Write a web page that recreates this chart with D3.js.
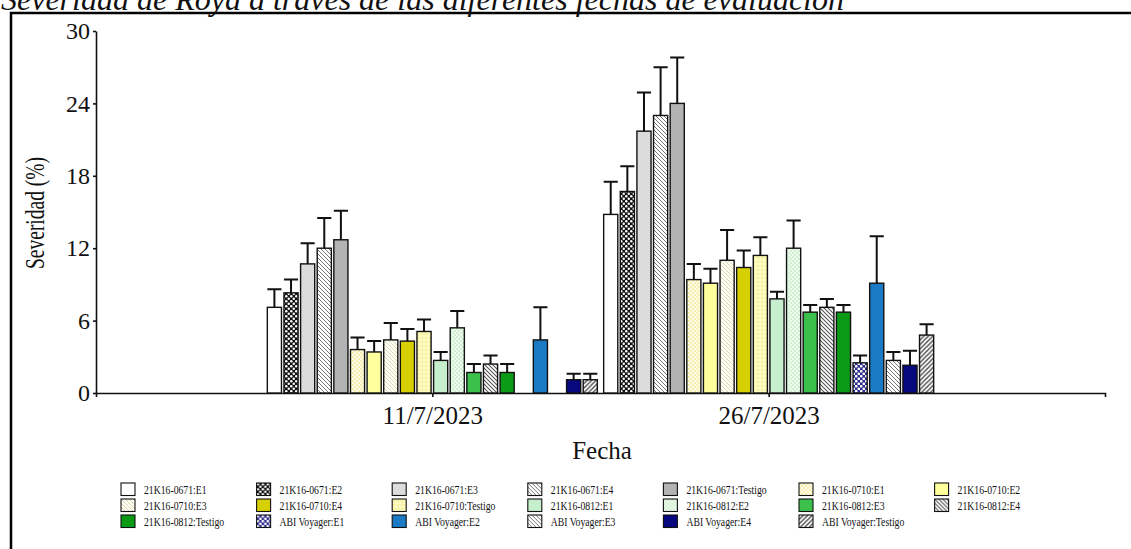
<!DOCTYPE html>
<html>
<head>
<meta charset="utf-8">
<script src="https://cdn.jsdelivr.net/npm/d3@7"></script>
<style>
  body { margin: 0; background: #fff; }
  svg { display: block; }
  text { font-family: "Liberation Serif", "Times New Roman", serif; fill: #111; }
</style>
</head>
<body>
<svg id="chart" width="1131" height="549"></svg>
<script>
// Evaluation dates (x categories)
const dates = ["11/7/2023", "26/7/2023"];

// Genotype : treatment combinations, in plotting order
const treatments = [
  "21K16-0671:E1", "21K16-0671:E2", "21K16-0671:E3", "21K16-0671:E4", "21K16-0671:Testigo",
  "21K16-0710:E1", "21K16-0710:E2", "21K16-0710:E3", "21K16-0710:E4", "21K16-0710:Testigo",
  "21K16-0812:E1", "21K16-0812:E2", "21K16-0812:E3", "21K16-0812:E4", "21K16-0812:Testigo",
  "ABI Voyager:E1", "ABI Voyager:E2", "ABI Voyager:E3", "ABI Voyager:E4", "ABI Voyager:Testigo"
];

// Mean severity (%) per treatment; null = no bar
const sev_11jul = [7.1, 8.3, 10.7, 12.0, 12.7, 3.6, 3.4, 4.4, 4.3, 5.1, 2.7, 5.4, 1.7, 2.4, 1.7, null, 4.4, null, 1.1, 1.1];
const sev_26jul = [14.8, 16.7, 21.7, 23.0, 24.0, 9.4, 9.1, 11.0, 10.4, 11.4, 7.8, 12.0, 6.7, 7.1, 6.7, 2.5, 9.1, 2.7, 2.3, 4.8];

// Standard error (upper whisker length)
const err_11jul = [1.5, 1.1, 1.7, 2.5, 2.4, 1.0, 0.9, 1.4, 1.0, 1.0, 0.7, 1.4, 0.7, 0.7, 0.7, null, 2.7, null, 0.5, 0.5];
const err_26jul = [2.7, 2.1, 3.2, 4.0, 3.8, 1.3, 1.2, 2.5, 1.4, 1.5, 0.6, 2.3, 0.6, 0.7, 0.6, 0.6, 3.9, 0.7, 1.2, 0.9];

const yTicks = [0, 6, 12, 18, 24, 30];

const titleText = "Severidad de Roya a través de las diferentes fechas de evaluación";

const rows = [];
dates.forEach((d, di) => {
  const sev = di === 0 ? sev_11jul : sev_26jul;
  const err = di === 0 ? err_11jul : err_26jul;
  treatments.forEach((t, ti) => {
    if (sev[ti] != null) rows.push({ date: d, treat: t, idx: ti, value: sev[ti], err: err[ti] });
  });
});

const svg = d3.select("#chart");
const defs = svg.append("defs");

// ---- fill patterns ----
function hatch(id, bg, color, dir, size, sw) {
  const p = defs.append("pattern").attr("id", id).attr("patternUnits", "userSpaceOnUse")
    .attr("width", size).attr("height", size);
  p.append("rect").attr("width", size).attr("height", size).attr("fill", bg);
  const s = size;
  if (dir === "\\") {
    p.append("path").attr("d", `M0,0L${s},${s}M${-s},0L${s},${2*s}M0,${-s}L${2*s},${s}`)
      .attr("stroke", color).attr("stroke-width", sw);
  } else {
    p.append("path").attr("d", `M0,${s}L${s},0M${-s},${s}L${s},${-s}M0,${2*s}L${2*s},0`)
      .attr("stroke", color).attr("stroke-width", sw);
  }
}
function holes(id, bg, hole, size, r) {
  const p = defs.append("pattern").attr("id", id).attr("patternUnits", "userSpaceOnUse")
    .attr("width", size).attr("height", size);
  p.append("rect").attr("width", size).attr("height", size).attr("fill", bg);
  p.append("circle").attr("cx", size / 4).attr("cy", size / 4).attr("r", r).attr("fill", hole);
  p.append("circle").attr("cx", 3 * size / 4).attr("cy", 3 * size / 4).attr("r", r).attr("fill", hole);
}
function dots(id, bg, color, size, r) {
  const p = defs.append("pattern").attr("id", id).attr("patternUnits", "userSpaceOnUse")
    .attr("width", size).attr("height", size);
  p.append("rect").attr("width", size).attr("height", size).attr("fill", bg);
  p.append("circle").attr("cx", size / 4).attr("cy", size / 4).attr("r", r).attr("fill", color);
  p.append("circle").attr("cx", 3 * size / 4).attr("cy", 3 * size / 4).attr("r", r).attr("fill", color);
}
function grid(id, bg, color, size) {
  const p = defs.append("pattern").attr("id", id).attr("patternUnits", "userSpaceOnUse")
    .attr("width", size).attr("height", size);
  p.append("rect").attr("width", size).attr("height", size).attr("fill", bg);
  p.append("path").attr("d", `M${size/2},0V${size}M0,${size/2}H${size}`)
    .attr("stroke", color).attr("stroke-width", 0.8);
}

holes("p-check-black", "#111", "#fff", 5, 1.25);
hatch("p-diag-gray", "#fff", "#777", "\\", 4, 1);
dots("p-dot-yellow", "#fffbe6", "#eee070", 4, 0.8);
hatch("p-diag-pale", "#fffff4", "#d6d6b8", "\\", 4, 1);
grid("p-grid-yellow", "#ffffcc", "#f4ec8c", 4);
dots("p-dot-green", "#effcef", "#a8dcaa", 4, 0.8);
hatch("p-diag-dark", "#fff", "#555", "\\", 4, 1.1);
holes("p-check-navy", "#2c2c8c", "#fff", 5, 1.35);
hatch("p-diag-abi", "#fff", "#777", "\\", 4, 1);
hatch("p-slash-abi", "#fff", "#444", "/", 4.5, 1.3);

const fills = [
  "#ffffff", "url(#p-check-black)", "#dcdcdc", "url(#p-diag-gray)", "#b3b3b3",
  "url(#p-dot-yellow)", "#ffff9c", "url(#p-diag-pale)", "#d6d000", "url(#p-grid-yellow)",
  "#c6f0cd", "url(#p-dot-green)", "#3cc04c", "url(#p-diag-dark)", "#0a9a16",
  "url(#p-check-navy)", "#1a7bc4", "url(#p-diag-abi)", "#08087e", "url(#p-slash-abi)"
];

// ---- frame and title ----
svg.append("rect").attr("x", 11).attr("y", 13).attr("width", 1200).attr("height", 600)
  .attr("fill", "none").attr("stroke", "#000").attr("stroke-width", 2.5);

svg.append("text").attr("x", 1).attr("y", 10)
  .style("font-size", "32px").style("font-style", "italic")
  .text(titleText);

// ---- scales ----
const y = d3.scaleLinear().domain([0, 30]).range([393, 31]);
const x0 = d3.scalePoint().domain(dates).range([96, 1105]).padding(1);
const x1 = d3.scaleBand().domain(treatments).range([-165, 165]).paddingInner(0.15);

// ---- axes ----
const yAxis = svg.append("g").attr("transform", "translate(96,0)")
  .call(d3.axisLeft(y).tickValues(yTicks).tickSize(3).tickPadding(3).tickSizeOuter(0));
yAxis.selectAll("text").style("font-size", "24px").style("font-family", "Liberation Serif").attr("fill", "#111");
yAxis.selectAll("path,line").attr("stroke", "#111").attr("stroke-width", 1.6);

const xAxis = svg.append("g").attr("transform", "translate(0,393)")
  .call(d3.axisBottom(x0).tickSize(4).tickPadding(9).tickSizeOuter(4));
xAxis.selectAll("text").style("font-size", "25px").style("font-family", "Liberation Serif").attr("fill", "#111");
xAxis.selectAll("path,line").attr("stroke", "#111").attr("stroke-width", 1.6);

svg.append("text").attr("x", 602).attr("y", 459).attr("text-anchor", "middle")
  .style("font-size", "25px").text("Fecha");

svg.append("text").attr("transform", "translate(44,213) rotate(-90)").attr("text-anchor", "middle")
  .attr("textLength", 112).attr("lengthAdjust", "spacingAndGlyphs")
  .style("font-size", "28px").text("Severidad (%)");

// ---- bars ----
const bw = x1.bandwidth();
const bars = svg.append("g");
bars.selectAll("rect").data(rows).join("rect")
  .attr("x", d => x0(d.date) + x1(d.treat))
  .attr("y", d => y(d.value))
  .attr("width", bw)
  .attr("height", d => y(0) - y(d.value))
  .attr("fill", d => fills[d.idx])
  .attr("stroke", "#111").attr("stroke-width", 1.4);

// ---- error bars (upper whisker only) ----
const eb = svg.append("g").attr("stroke", "#111").attr("stroke-width", 2).attr("fill", "none");
eb.selectAll("path").data(rows.filter(d => d.err > 0)).join("path")
  .attr("d", d => {
    const cx = x0(d.date) + x1(d.treat) + bw / 2;
    const top = y(d.value + d.err);
    return `M${cx},${y(d.value)}V${top}M${cx - bw / 2},${top}H${cx + bw / 2}`;
  });

// ---- legend ----
const legend = svg.append("g");
treatments.forEach((t, i) => {
  const col = i % 7, row = Math.floor(i / 7);
  const gx = 121 + col * 135.6, gy = 483 + row * 16;
  const g = legend.append("g").attr("transform", `translate(${gx},${gy})`);
  g.append("rect").attr("width", 14).attr("height", 12.5)
    .attr("fill", fills[i]).attr("stroke", "#111").attr("stroke-width", 1.1);
  g.append("text").attr("transform", "translate(23,10.5) scale(0.72,1)")
    .style("font-size", "13.5px").text(t);
});
</script>
</body>
</html>
